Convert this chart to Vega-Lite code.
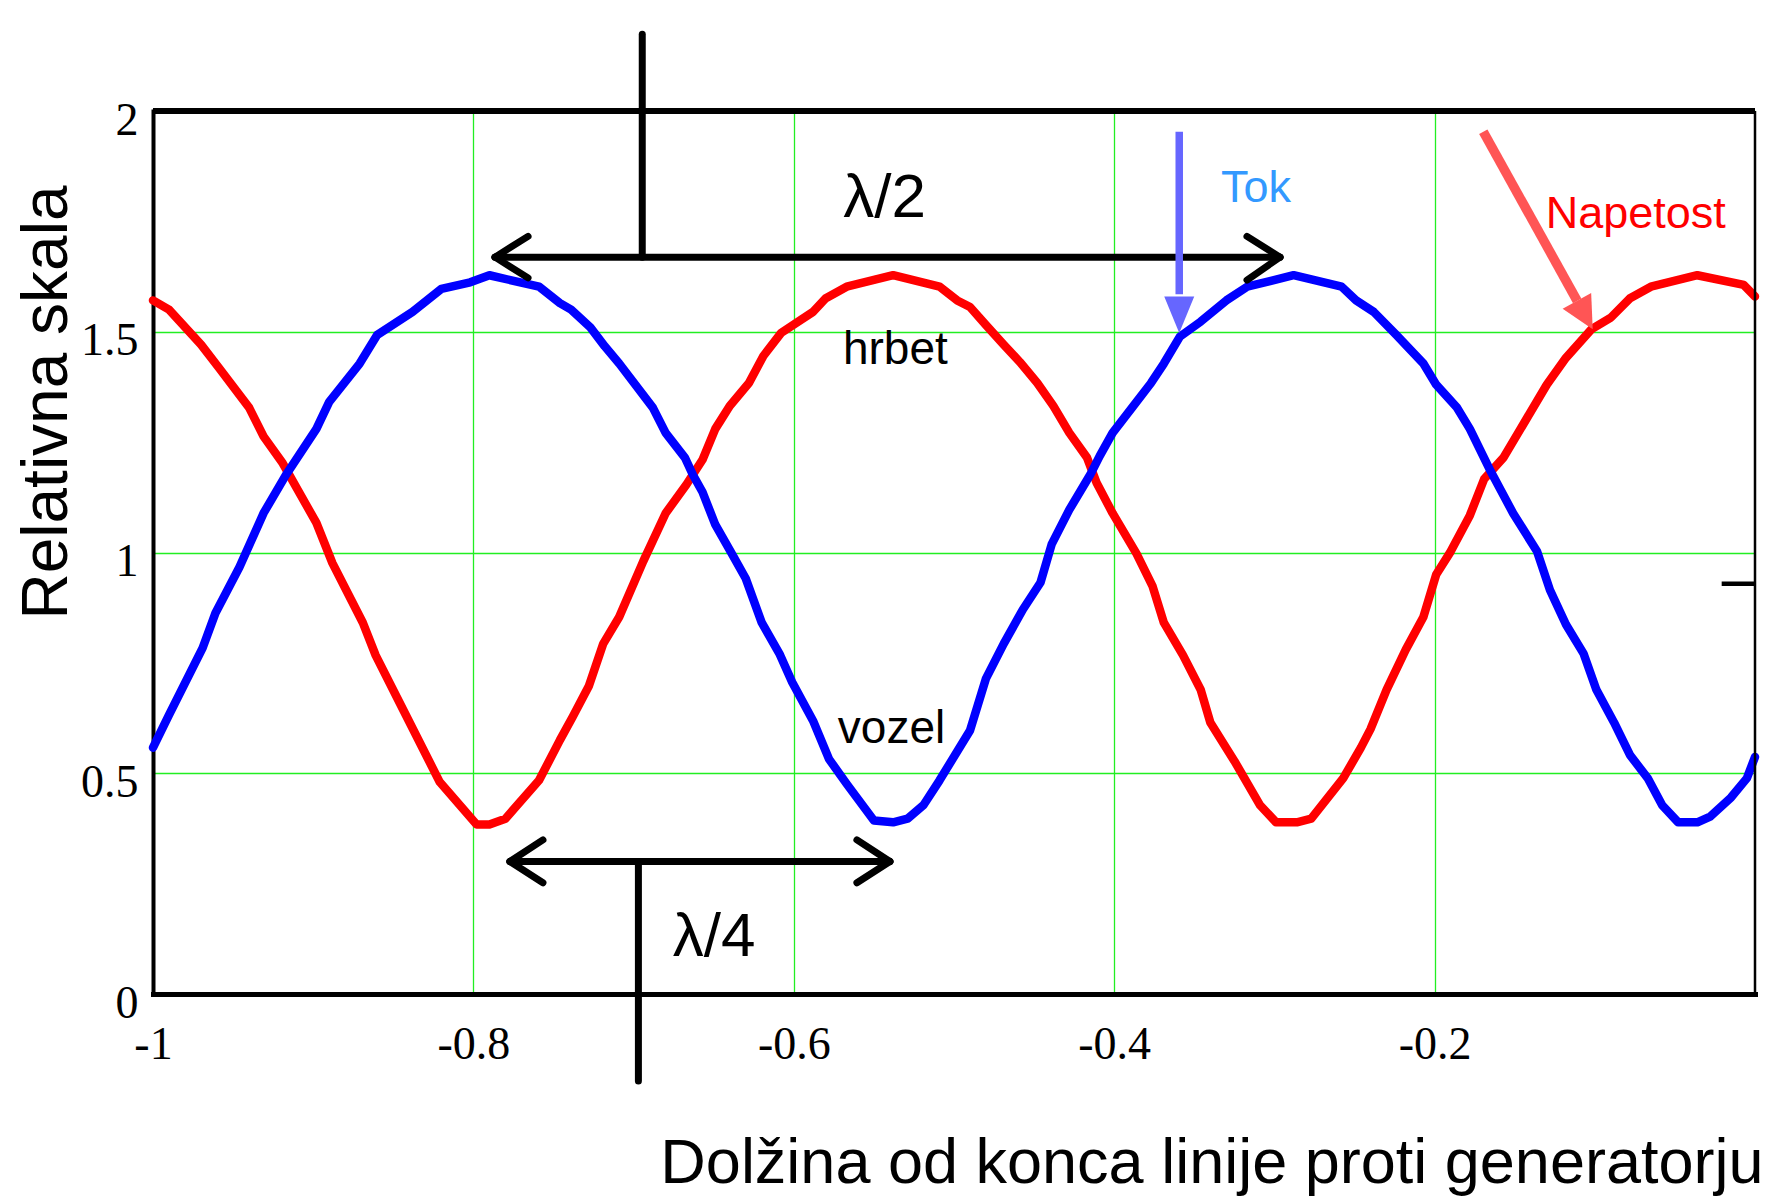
{
  "$schema": "https://vega.github.io/schema/vega-lite/v6.json",
  "autosize": {"type": "none"},
  "width": 1602,
  "height": 883,
  "padding": {"left": 153, "top": 111, "right": 23, "bottom": 205},
  "background": "white",
  "config": {"view": {"stroke": null}},
  "datasets": {
    "curves": [
      {"x": -1.000, "v": 1.571, "serie": "Napetost"},
      {"x": -0.990, "v": 1.550, "serie": "Napetost"},
      {"x": -0.970, "v": 1.471, "serie": "Napetost"},
      {"x": -0.959, "v": 1.419, "serie": "Napetost"},
      {"x": -0.940, "v": 1.328, "serie": "Napetost"},
      {"x": -0.931, "v": 1.263, "serie": "Napetost"},
      {"x": -0.919, "v": 1.202, "serie": "Napetost"},
      {"x": -0.898, "v": 1.067, "serie": "Napetost"},
      {"x": -0.888, "v": 0.976, "serie": "Napetost"},
      {"x": -0.869, "v": 0.841, "serie": "Napetost"},
      {"x": -0.861, "v": 0.767, "serie": "Napetost"},
      {"x": -0.844, "v": 0.645, "serie": "Napetost"},
      {"x": -0.821, "v": 0.480, "serie": "Napetost"},
      {"x": -0.798, "v": 0.384, "serie": "Napetost"},
      {"x": -0.790, "v": 0.384, "serie": "Napetost"},
      {"x": -0.780, "v": 0.397, "serie": "Napetost"},
      {"x": -0.759, "v": 0.484, "serie": "Napetost"},
      {"x": -0.746, "v": 0.575, "serie": "Napetost"},
      {"x": -0.738, "v": 0.628, "serie": "Napetost"},
      {"x": -0.728, "v": 0.697, "serie": "Napetost"},
      {"x": -0.719, "v": 0.793, "serie": "Napetost"},
      {"x": -0.709, "v": 0.854, "serie": "Napetost"},
      {"x": -0.694, "v": 0.980, "serie": "Napetost"},
      {"x": -0.680, "v": 1.089, "serie": "Napetost"},
      {"x": -0.667, "v": 1.154, "serie": "Napetost"},
      {"x": -0.657, "v": 1.210, "serie": "Napetost"},
      {"x": -0.649, "v": 1.280, "serie": "Napetost"},
      {"x": -0.640, "v": 1.332, "serie": "Napetost"},
      {"x": -0.628, "v": 1.384, "serie": "Napetost"},
      {"x": -0.619, "v": 1.445, "serie": "Napetost"},
      {"x": -0.608, "v": 1.497, "serie": "Napetost"},
      {"x": -0.588, "v": 1.545, "serie": "Napetost"},
      {"x": -0.580, "v": 1.576, "serie": "Napetost"},
      {"x": -0.567, "v": 1.602, "serie": "Napetost"},
      {"x": -0.538, "v": 1.628, "serie": "Napetost"},
      {"x": -0.509, "v": 1.602, "serie": "Napetost"},
      {"x": -0.498, "v": 1.571, "serie": "Napetost"},
      {"x": -0.490, "v": 1.556, "serie": "Napetost"},
      {"x": -0.480, "v": 1.515, "serie": "Napetost"},
      {"x": -0.469, "v": 1.471, "serie": "Napetost"},
      {"x": -0.459, "v": 1.432, "serie": "Napetost"},
      {"x": -0.448, "v": 1.384, "serie": "Napetost"},
      {"x": -0.438, "v": 1.332, "serie": "Napetost"},
      {"x": -0.428, "v": 1.271, "serie": "Napetost"},
      {"x": -0.417, "v": 1.215, "serie": "Napetost"},
      {"x": -0.411, "v": 1.158, "serie": "Napetost"},
      {"x": -0.401, "v": 1.089, "serie": "Napetost"},
      {"x": -0.386, "v": 0.997, "serie": "Napetost"},
      {"x": -0.376, "v": 0.923, "serie": "Napetost"},
      {"x": -0.369, "v": 0.841, "serie": "Napetost"},
      {"x": -0.357, "v": 0.767, "serie": "Napetost"},
      {"x": -0.346, "v": 0.689, "serie": "Napetost"},
      {"x": -0.340, "v": 0.615, "serie": "Napetost"},
      {"x": -0.325, "v": 0.528, "serie": "Napetost"},
      {"x": -0.309, "v": 0.428, "serie": "Napetost"},
      {"x": -0.299, "v": 0.389, "serie": "Napetost"},
      {"x": -0.286, "v": 0.389, "serie": "Napetost"},
      {"x": -0.277, "v": 0.397, "serie": "Napetost"},
      {"x": -0.257, "v": 0.489, "serie": "Napetost"},
      {"x": -0.246, "v": 0.558, "serie": "Napetost"},
      {"x": -0.240, "v": 0.600, "serie": "Napetost"},
      {"x": -0.230, "v": 0.689, "serie": "Napetost"},
      {"x": -0.218, "v": 0.780, "serie": "Napetost"},
      {"x": -0.207, "v": 0.854, "serie": "Napetost"},
      {"x": -0.199, "v": 0.950, "serie": "Napetost"},
      {"x": -0.190, "v": 1.002, "serie": "Napetost"},
      {"x": -0.178, "v": 1.084, "serie": "Napetost"},
      {"x": -0.169, "v": 1.167, "serie": "Napetost"},
      {"x": -0.157, "v": 1.215, "serie": "Napetost"},
      {"x": -0.147, "v": 1.276, "serie": "Napetost"},
      {"x": -0.130, "v": 1.380, "serie": "Napetost"},
      {"x": -0.118, "v": 1.441, "serie": "Napetost"},
      {"x": -0.102, "v": 1.506, "serie": "Napetost"},
      {"x": -0.090, "v": 1.532, "serie": "Napetost"},
      {"x": -0.078, "v": 1.576, "serie": "Napetost"},
      {"x": -0.065, "v": 1.602, "serie": "Napetost"},
      {"x": -0.036, "v": 1.628, "serie": "Napetost"},
      {"x": -0.007, "v": 1.606, "serie": "Napetost"},
      {"x": 0.000, "v": 1.580, "serie": "Napetost"},

      {"x": -1.000, "v": 0.558, "serie": "Tok"},
      {"x": -0.990, "v": 0.632, "serie": "Tok"},
      {"x": -0.969, "v": 0.784, "serie": "Tok"},
      {"x": -0.961, "v": 0.863, "serie": "Tok"},
      {"x": -0.946, "v": 0.967, "serie": "Tok"},
      {"x": -0.931, "v": 1.089, "serie": "Tok"},
      {"x": -0.917, "v": 1.176, "serie": "Tok"},
      {"x": -0.898, "v": 1.280, "serie": "Tok"},
      {"x": -0.890, "v": 1.341, "serie": "Tok"},
      {"x": -0.871, "v": 1.428, "serie": "Tok"},
      {"x": -0.860, "v": 1.493, "serie": "Tok"},
      {"x": -0.838, "v": 1.545, "serie": "Tok"},
      {"x": -0.820, "v": 1.597, "serie": "Tok"},
      {"x": -0.802, "v": 1.612, "serie": "Tok"},
      {"x": -0.790, "v": 1.628, "serie": "Tok"},
      {"x": -0.759, "v": 1.602, "serie": "Tok"},
      {"x": -0.746, "v": 1.565, "serie": "Tok"},
      {"x": -0.739, "v": 1.550, "serie": "Tok"},
      {"x": -0.727, "v": 1.510, "serie": "Tok"},
      {"x": -0.718, "v": 1.467, "serie": "Tok"},
      {"x": -0.709, "v": 1.428, "serie": "Tok"},
      {"x": -0.688, "v": 1.328, "serie": "Tok"},
      {"x": -0.680, "v": 1.271, "serie": "Tok"},
      {"x": -0.668, "v": 1.215, "serie": "Tok"},
      {"x": -0.663, "v": 1.176, "serie": "Tok"},
      {"x": -0.657, "v": 1.137, "serie": "Tok"},
      {"x": -0.649, "v": 1.063, "serie": "Tok"},
      {"x": -0.638, "v": 0.993, "serie": "Tok"},
      {"x": -0.630, "v": 0.941, "serie": "Tok"},
      {"x": -0.620, "v": 0.841, "serie": "Tok"},
      {"x": -0.609, "v": 0.771, "serie": "Tok"},
      {"x": -0.601, "v": 0.706, "serie": "Tok"},
      {"x": -0.588, "v": 0.619, "serie": "Tok"},
      {"x": -0.578, "v": 0.532, "serie": "Tok"},
      {"x": -0.567, "v": 0.476, "serie": "Tok"},
      {"x": -0.550, "v": 0.393, "serie": "Tok"},
      {"x": -0.538, "v": 0.389, "serie": "Tok"},
      {"x": -0.529, "v": 0.397, "serie": "Tok"},
      {"x": -0.519, "v": 0.428, "serie": "Tok"},
      {"x": -0.509, "v": 0.484, "serie": "Tok"},
      {"x": -0.490, "v": 0.597, "serie": "Tok"},
      {"x": -0.480, "v": 0.715, "serie": "Tok"},
      {"x": -0.469, "v": 0.793, "serie": "Tok"},
      {"x": -0.457, "v": 0.871, "serie": "Tok"},
      {"x": -0.446, "v": 0.932, "serie": "Tok"},
      {"x": -0.439, "v": 1.019, "serie": "Tok"},
      {"x": -0.428, "v": 1.097, "serie": "Tok"},
      {"x": -0.415, "v": 1.176, "serie": "Tok"},
      {"x": -0.409, "v": 1.219, "serie": "Tok"},
      {"x": -0.401, "v": 1.271, "serie": "Tok"},
      {"x": -0.388, "v": 1.332, "serie": "Tok"},
      {"x": -0.377, "v": 1.384, "serie": "Tok"},
      {"x": -0.369, "v": 1.428, "serie": "Tok"},
      {"x": -0.359, "v": 1.489, "serie": "Tok"},
      {"x": -0.346, "v": 1.523, "serie": "Tok"},
      {"x": -0.330, "v": 1.571, "serie": "Tok"},
      {"x": -0.317, "v": 1.602, "serie": "Tok"},
      {"x": -0.288, "v": 1.628, "serie": "Tok"},
      {"x": -0.258, "v": 1.602, "serie": "Tok"},
      {"x": -0.249, "v": 1.571, "serie": "Tok"},
      {"x": -0.238, "v": 1.545, "serie": "Tok"},
      {"x": -0.224, "v": 1.493, "serie": "Tok"},
      {"x": -0.207, "v": 1.428, "serie": "Tok"},
      {"x": -0.199, "v": 1.380, "serie": "Tok"},
      {"x": -0.186, "v": 1.328, "serie": "Tok"},
      {"x": -0.178, "v": 1.280, "serie": "Tok"},
      {"x": -0.165, "v": 1.184, "serie": "Tok"},
      {"x": -0.151, "v": 1.089, "serie": "Tok"},
      {"x": -0.136, "v": 1.002, "serie": "Tok"},
      {"x": -0.128, "v": 0.915, "serie": "Tok"},
      {"x": -0.118, "v": 0.837, "serie": "Tok"},
      {"x": -0.107, "v": 0.771, "serie": "Tok"},
      {"x": -0.099, "v": 0.689, "serie": "Tok"},
      {"x": -0.088, "v": 0.615, "serie": "Tok"},
      {"x": -0.078, "v": 0.541, "serie": "Tok"},
      {"x": -0.067, "v": 0.489, "serie": "Tok"},
      {"x": -0.058, "v": 0.428, "serie": "Tok"},
      {"x": -0.048, "v": 0.389, "serie": "Tok"},
      {"x": -0.036, "v": 0.389, "serie": "Tok"},
      {"x": -0.028, "v": 0.402, "serie": "Tok"},
      {"x": -0.015, "v": 0.445, "serie": "Tok"},
      {"x": -0.005, "v": 0.489, "serie": "Tok"},
      {"x": 0.000, "v": 0.537, "serie": "Tok"}
    ],
    "spans": [
      {"x": -0.7865, "v": 1.669, "x2": -0.2965, "v2": 1.669},
      {"x": -0.7865, "v": 1.669, "x2": -0.7659, "v2": 1.716},
      {"x": -0.7865, "v": 1.669, "x2": -0.7659, "v2": 1.622},
      {"x": -0.2965, "v": 1.669, "x2": -0.3171, "v2": 1.716},
      {"x": -0.2965, "v": 1.669, "x2": -0.3171, "v2": 1.617},
      {"x": -0.6946, "v": 2.174, "x2": -0.6946, "v2": 1.669},
      {"x": -0.7772, "v": 0.300, "x2": -0.5400, "v2": 0.300},
      {"x": -0.7772, "v": 0.300, "x2": -0.7566, "v2": 0.349},
      {"x": -0.7772, "v": 0.300, "x2": -0.7566, "v2": 0.252},
      {"x": -0.5400, "v": 0.300, "x2": -0.5606, "v2": 0.349},
      {"x": -0.5400, "v": 0.300, "x2": -0.5606, "v2": 0.252},
      {"x": -0.6970, "v": 0.300, "x2": -0.6970, "v2": -0.197}
    ]
  },
  "layer": [
    {
      "data": {"name": "curves"},
      "mark": {"type": "line", "strokeWidth": 8.5, "strokeCap": "round", "strokeJoin": "round"},
      "encoding": {
        "x": {
          "field": "x", "type": "quantitative",
          "scale": {"domain": [-1, 0], "nice": false, "zero": false},
          "axis": {
            "orient": "bottom",
            "values": [-1, -0.8, -0.6, -0.4, -0.2],
            "labelExpr": "(datum.value < 0 ? '-' : '') + format(abs(datum.value), '')",
            "labelFont": "Liberation Serif", "labelFontSize": 46, "labelColor": "black",
            "labelBaseline": "middle", "labelPadding": 50, "labelFlush": false,
            "ticks": false,
            "domainColor": "black", "domainWidth": 5, "domainCap": "square",
            "grid": true, "gridColor": "#22ee22", "gridWidth": 1.3,
            "title": "Dolžina od konca linije proti generatorju",
            "titleFont": "Liberation Sans", "titleFontSize": 63, "titleFontWeight": "normal",
            "titleColor": "black", "titleAlign": "right", "titleBaseline": "alphabetic",
            "titleX": 1610, "titleY": 188
          }
        },
        "y": {
          "field": "v", "type": "quantitative",
          "scale": {"domain": [0, 2], "nice": false, "zero": false},
          "axis": {
            "values": [0, 0.5, 1, 1.5, 2],
            "labelExpr": "format(datum.value, '')",
            "labelFont": "Liberation Serif", "labelFontSize": 46, "labelColor": "black",
            "labelPadding": 15, "labelOffset": 9, "labelFlush": false,
            "ticks": false,
            "domainColor": "black", "domainWidth": 4, "domainCap": "square",
            "grid": true, "gridColor": "#22ee22", "gridWidth": 1.3,
            "title": "Relativna skala",
            "titleFont": "Liberation Sans", "titleFontSize": 64, "titleFontWeight": "normal",
            "titleColor": "black", "titleAngle": -90, "titleAlign": "center", "titleBaseline": "alphabetic",
            "titleX": -87, "titleY": 291
          }
        },
        "color": {
          "field": "serie", "type": "nominal",
          "scale": {"domain": ["Napetost", "Tok"], "range": ["#ff0000", "#0000ff"]},
          "legend": null
        }
      }
    },
    {
      "data": {"values": [{"v": 2}]},
      "mark": {"type": "rule", "color": "black", "strokeWidth": 6},
      "encoding": {"y": {"field": "v", "type": "quantitative"}}
    },
    {
      "data": {"values": [{"x": 0}]},
      "mark": {"type": "rule", "color": "black", "strokeWidth": 2.5},
      "encoding": {"x": {"field": "x", "type": "quantitative"}}
    },
    {
      "data": {"name": "spans"},
      "mark": {"type": "rule", "color": "black", "strokeWidth": 7, "strokeCap": "round"},
      "encoding": {
        "x": {"field": "x", "type": "quantitative"},
        "y": {"field": "v", "type": "quantitative"},
        "x2": {"field": "x2"},
        "y2": {"field": "v2"}
      }
    },
    {
      "data": {"values": [{"x": -0.0208, "v": 0.929, "x2": 0, "v2": 0.929}]},
      "mark": {"type": "rule", "color": "black", "strokeWidth": 4.5},
      "encoding": {
        "x": {"field": "x", "type": "quantitative"},
        "y": {"field": "v", "type": "quantitative"},
        "x2": {"field": "x2"},
        "y2": {"field": "v2"}
      }
    },
    {
      "data": {"values": [{"x": -0.3594, "v": 1.953, "v2": 1.585}]},
      "mark": {"type": "rule", "color": "#6666ff", "strokeWidth": 7.5},
      "encoding": {
        "x": {"field": "x", "type": "quantitative"},
        "y": {"field": "v", "type": "quantitative"},
        "y2": {"field": "v2"}
      }
    },
    {
      "data": {"values": [{"x": -0.3594, "v": 1.497}]},
      "mark": {"type": "point", "shape": "M-1,-2.44L1,-2.44L0,0Z", "size": 900, "filled": true, "opacity": 1, "color": "#6666ff"},
      "encoding": {
        "x": {"field": "x", "type": "quantitative"},
        "y": {"field": "v", "type": "quantitative"}
      }
    },
    {
      "data": {"values": [{"x": -0.1696, "v": 1.953, "x2": -0.1110, "v2": 1.570}]},
      "mark": {"type": "rule", "color": "#ff5555", "strokeWidth": 9.5},
      "encoding": {
        "x": {"field": "x", "type": "quantitative"},
        "y": {"field": "v", "type": "quantitative"},
        "x2": {"field": "x2"},
        "y2": {"field": "v2"}
      }
    },
    {
      "data": {"values": [{"x": -0.1013, "v": 1.5055}]},
      "mark": {"type": "point", "shape": "M-1,-2L1,-2L0,0Z", "size": 1063, "angle": -29, "filled": true, "opacity": 1, "color": "#ff5555"},
      "encoding": {
        "x": {"field": "x", "type": "quantitative"},
        "y": {"field": "v", "type": "quantitative"}
      }
    },
    {
      "data": {"values": [
        {"x": -0.5433, "v": 1.761, "t": "λ/2"},
        {"x": -0.6498, "v": 0.085, "t": "λ/4"}
      ]},
      "mark": {"type": "text", "font": "Liberation Sans", "fontSize": 62, "color": "black", "align": "center", "baseline": "alphabetic"},
      "encoding": {
        "x": {"field": "x", "type": "quantitative"},
        "y": {"field": "v", "type": "quantitative"},
        "text": {"field": "t"}
      }
    },
    {
      "data": {"values": [
        {"x": -0.5366, "v": 1.426, "t": "hrbet"},
        {"x": -0.5390, "v": 0.569, "t": "vozel"}
      ]},
      "mark": {"type": "text", "font": "Liberation Sans", "fontSize": 46, "color": "black", "align": "center", "baseline": "alphabetic"},
      "encoding": {
        "x": {"field": "x", "type": "quantitative"},
        "y": {"field": "v", "type": "quantitative"},
        "text": {"field": "t"}
      }
    },
    {
      "data": {"values": [{"x": -0.3115, "v": 1.795, "t": "Tok"}]},
      "mark": {"type": "text", "font": "Liberation Sans", "fontSize": 45, "color": "#3399ff", "align": "center", "baseline": "alphabetic"},
      "encoding": {
        "x": {"field": "x", "type": "quantitative"},
        "y": {"field": "v", "type": "quantitative"},
        "text": {"field": "t"}
      }
    },
    {
      "data": {"values": [{"x": -0.0744, "v": 1.734, "t": "Napetost"}]},
      "mark": {"type": "text", "font": "Liberation Sans", "fontSize": 45, "color": "#ff0000", "align": "center", "baseline": "alphabetic"},
      "encoding": {
        "x": {"field": "x", "type": "quantitative"},
        "y": {"field": "v", "type": "quantitative"},
        "text": {"field": "t"}
      }
    }
  ]
}
